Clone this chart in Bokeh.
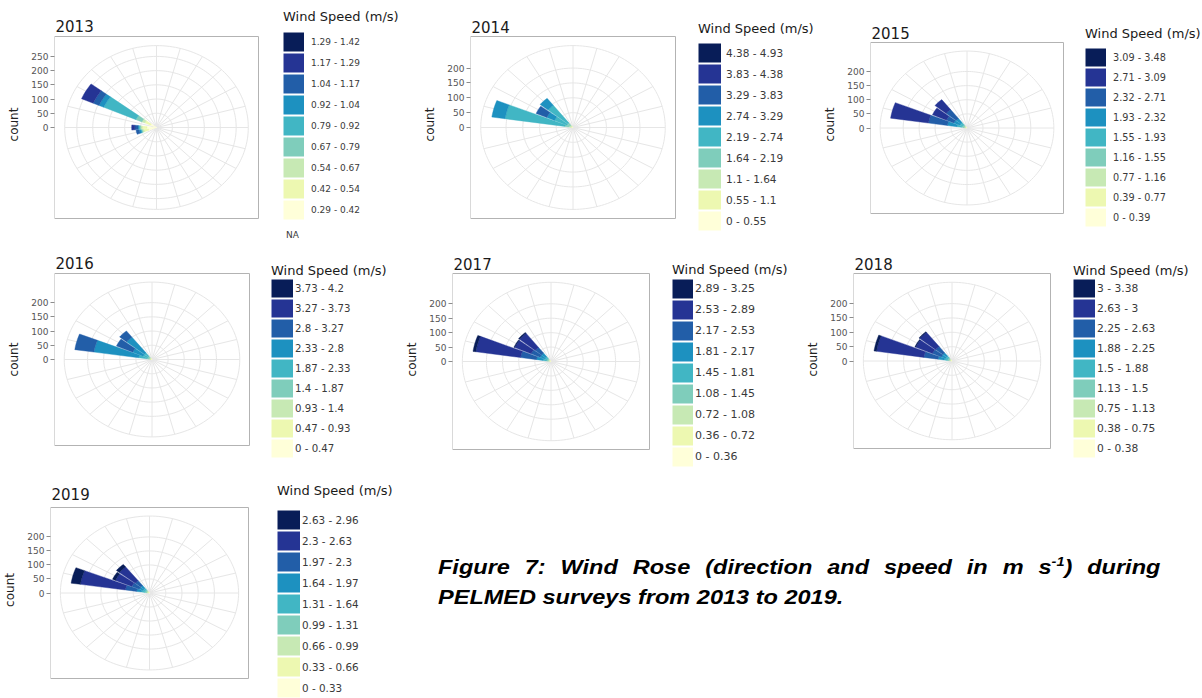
import numpy as np
from bokeh.plotting import figure
from bokeh.layouts import row, column
from bokeh.models import Range1d, FixedTicker, Legend, LegendItem, ColumnDataSource, Div, Label
from bokeh.embed import file_html
from bokeh.resources import INLINE

# ---------------- data ----------------
SPEED_COLORS = ["#ffffd9", "#edf8b1", "#c7e9b4", "#7fcdbb", "#41b6c4",
                "#1d91c0", "#225ea8", "#253494", "#081d58"]
DIR_STEP = 15  # direction bin width (degrees)

SPEED_BINS_2013 = ["0.29 - 0.42", "0.42 - 0.54", "0.54 - 0.67", "0.67 - 0.79", "0.79 - 0.92",
                   "0.92 - 1.04", "1.04 - 1.17", "1.17 - 1.29", "1.29 - 1.42"]
SPEED_BINS_2014 = ["0 - 0.55", "0.55 - 1.1", "1.1 - 1.64", "1.64 - 2.19", "2.19 - 2.74",
                   "2.74 - 3.29", "3.29 - 3.83", "3.83 - 4.38", "4.38 - 4.93"]
SPEED_BINS_2015 = ["0 - 0.39", "0.39 - 0.77", "0.77 - 1.16", "1.16 - 1.55", "1.55 - 1.93",
                   "1.93 - 2.32", "2.32 - 2.71", "2.71 - 3.09", "3.09 - 3.48"]
SPEED_BINS_2016 = ["0 - 0.47", "0.47 - 0.93", "0.93 - 1.4", "1.4 - 1.87", "1.87 - 2.33",
                   "2.33 - 2.8", "2.8 - 3.27", "3.27 - 3.73", "3.73 - 4.2"]
SPEED_BINS_2017 = ["0 - 0.36", "0.36 - 0.72", "0.72 - 1.08", "1.08 - 1.45", "1.45 - 1.81",
                   "1.81 - 2.17", "2.17 - 2.53", "2.53 - 2.89", "2.89 - 3.25"]
SPEED_BINS_2018 = ["0 - 0.38", "0.38 - 0.75", "0.75 - 1.13", "1.13 - 1.5", "1.5 - 1.88",
                   "1.88 - 2.25", "2.25 - 2.63", "2.63 - 3", "3 - 3.38"]
SPEED_BINS_2019 = ["0 - 0.33", "0.33 - 0.66", "0.66 - 0.99", "0.99 - 1.31", "1.31 - 1.64",
                   "1.64 - 1.97", "1.97 - 2.3", "2.3 - 2.63", "2.63 - 2.96"]

# direction bins (compass degrees) and counts per speed bin (low -> high)
DIRS_2013 = [255, 270, 300]
COUNTS_2013 = [[25, 15, 5, 3, 2, 5, 10, 0, 0],
               [30, 15, 5, 3, 3, 2, 10, 10, 0],
               [20, 20, 10, 20, 110, 16, 20, 40, 0]]
DIRS_2014 = [285, 300, 315]
COUNTS_2014 = [[3, 4, 6, 12, 180, 40, 0, 0, 0],
               [2, 3, 5, 10, 40, 25, 35, 0, 0],
               [2, 3, 5, 10, 75, 30, 0, 0, 0]]
DIRS_2015 = [285, 300, 315]
COUNTS_2015 = [[2, 3, 4, 8, 15, 30, 60, 120, 0],
               [2, 3, 4, 6, 10, 20, 25, 48, 0],
               [2, 3, 4, 6, 10, 18, 40, 45, 0]]
DIRS_2016 = [285, 300, 315]
COUNTS_2016 = [[2, 3, 4, 8, 25, 140, 60, 0, 0],
               [2, 3, 4, 6, 15, 35, 55, 0, 0],
               [2, 3, 4, 6, 15, 70, 28, 0, 0]]
DIRS_2017 = [285, 300, 315]
COUNTS_2017 = [[2, 3, 4, 6, 10, 20, 50, 140, 9],
               [2, 3, 4, 5, 8, 15, 30, 55, 3],
               [2, 3, 4, 5, 8, 15, 25, 62, 4]]
DIRS_2018 = [285, 300, 315]
COUNTS_2018 = [[2, 3, 4, 6, 10, 18, 45, 148, 8],
               [2, 3, 4, 5, 8, 14, 30, 56, 3],
               [2, 3, 4, 5, 8, 14, 28, 63, 3]]
DIRS_2019 = [285, 300, 315]
COUNTS_2019 = [[2, 3, 4, 6, 10, 15, 35, 140, 29],
               [2, 3, 4, 5, 8, 12, 25, 55, 10],
               [2, 3, 4, 5, 8, 12, 22, 62, 12]]

# ---------------- styling ----------------
FONT = "DejaVu Sans"
GRID = "#e6e6e6"
BORDER = "#b3b3b3"
NAN = np.array([np.nan])


def rose(year, dirs, counts, labels, fig, box, leg, na=False):
    fx0, fy0, fw, fh, ftop = fig           # figure placement (px), top border
    bx0, by0, bx1, by1 = box               # panel box (px)
    lx, ltop, pitch, sw, lab_size, standoff, tstand, toff = leg

    totals = [sum(c) for c in counts]
    rmax = max(totals)
    ext = 1.25 * rmax                      # ggplot polar panel half-extent
    r_out = 1.125 * rmax                   # outer grid circle
    cx, cy = (bx0 + bx1) / 2, (by0 + by1) / 2
    hpx = (bx1 - bx0) / 2 / ext
    vpx = (by1 - by0) / 2 / ext
    x_rng = Range1d((bx0 - cx) / hpx, (fx0 + fw - cx) / hpx)
    y_rng = Range1d(-(fy0 + fh - cy) / vpx, (cy - (fy0 + ftop)) / vpx)

    p = figure(width=fw, height=fh, x_range=x_rng, y_range=y_rng,
               output_backend="svg", toolbar_location=None, x_axis_location=None,
               min_border_left=bx0 - fx0, min_border_right=0,
               min_border_top=ftop, min_border_bottom=0)
    p.outline_line_color = None
    p.grid.visible = False
    ticks = list(range(0, int(rmax) + 1, 50))
    ax = p.yaxis[0]
    ax.ticker = FixedTicker(ticks=ticks)
    ax.axis_line_color = None
    ax.major_tick_out = 4
    ax.major_tick_in = 0
    ax.minor_tick_line_color = None
    ax.major_tick_line_color = "#8c8c8c"
    ax.major_label_text_font = FONT
    ax.major_label_text_font_size = "9px"
    ax.major_label_text_color = "#555555"
    ax.major_label_standoff = 2
    ax.axis_label = "count"
    ax.axis_label_text_font = FONT
    ax.axis_label_text_font_size = "12px"
    ax.axis_label_text_font_style = "normal"
    ax.axis_label_text_color = "#222222"
    ax.axis_label_standoff = 7

    # grid: circles at breaks + outer circle, spokes at each direction bin
    radii = [t for t in ticks if t > 0] + [r_out]
    t = np.linspace(0, 2 * np.pi, 181)
    p.multi_line(xs=[list(r * np.cos(t)) for r in radii],
                 ys=[list(r * np.sin(t)) for r in radii],
                 line_color=GRID, line_width=1)
    sp = np.deg2rad(90 - np.arange(0, 360, DIR_STEP))
    p.segment(x0=np.zeros(len(sp)), y0=np.zeros(len(sp)),
              x1=r_out * np.cos(sp), y1=r_out * np.sin(sp),
              line_color=GRID, line_width=1)

    # stacked wedges
    xs, ys, cols = [], [], []
    half = np.deg2rad(0.45 * DIR_STEP)
    for d, cnts in zip(dirs, counts):
        a = np.deg2rad(90 - d)
        th = np.linspace(a - half, a + half, 16)
        r0 = 0.0
        for k, c in enumerate(cnts):
            if c <= 0:
                continue
            r1 = r0 + c
            xs.append(list(r1 * np.cos(th)) + list(r0 * np.cos(th[::-1])))
            ys.append(list(r1 * np.sin(th)) + list(r0 * np.sin(th[::-1])))
            cols.append(SPEED_COLORS[k])
            r0 = r1
    src = ColumnDataSource(dict(xs=xs, ys=ys, col=cols))
    p.patches("xs", "ys", fill_color="col", line_color="col", line_width=0.4, source=src)

    # panel border (the polar panel extent)
    p.quad(left=[-ext], right=[ext], bottom=[-ext], top=[ext],
           fill_color=None, line_color=BORDER, line_width=1)

    # year title above the panel
    p.add_layout(Label(x=-ext, y=ext, text=year, x_offset=1, y_offset=toff,
                       text_baseline="alphabetic", text_align="left",
                       text_font=FONT, text_font_size="15px", text_color="#1a1a1a"))

    # legend
    items = []
    for lab, col in reversed(list(zip(labels, SPEED_COLORS))):
        r = p.line(x=NAN, y=NAN, line_color=col, line_width=pitch - 2, line_cap="butt")
        items.append(LegendItem(label=lab, renderers=[r]))
    last_bottom = (ltop - 1) + len(labels) * pitch
    legend = Legend(items=items, location=(lx - bx0, fy0 + fh - last_bottom),
                    title="Wind Speed (m/s)",
                    title_text_font=FONT, title_text_font_size="13px", title_text_font_style="normal",
                    title_text_color="#1a1a1a", title_standoff=tstand,
                    label_text_font=FONT, label_text_font_size=f"{lab_size}px",
                    label_text_color="#3a3a3a",
                    glyph_width=sw, glyph_height=pitch, label_height=pitch, spacing=0,
                    label_standoff=standoff, padding=0, margin=0,
                    border_line_color=None, background_fill_alpha=0)
    p.add_layout(legend)
    if na:
        rna = p.line(x=NAN, y=NAN, line_alpha=0)
        leg_na = Legend(items=[LegendItem(label="NA", renderers=[rna])],
                        location=(lx + 2 - bx0, 0),
                        glyph_width=1, glyph_height=8, label_height=8, label_standoff=0,
                        label_text_font=FONT, label_text_font_size=f"{lab_size}px",
                        label_text_color="#3a3a3a", padding=0, margin=0,
                        border_line_color=None, background_fill_alpha=0)
        p.add_layout(leg_na)
    return p


p13 = rose("2013", DIRS_2013, COUNTS_2013, SPEED_BINS_2013,
           (0, 0, 400, 240, 8), (54, 36, 258, 218), (283, 32, 21, 21, 9, 7, 7, 11), na=True)
p14 = rose("2014", DIRS_2014, COUNTS_2014, SPEED_BINS_2014,
           (400, 0, 420, 240, 8), (470, 36, 675, 218), (698, 43, 21, 23, 10.5, 5, 6, 10))
p15 = rose("2015", DIRS_2015, COUNTS_2015, SPEED_BINS_2015,
           (820, 0, 382, 240, 8), (870, 42, 1063, 213), (1085, 48, 20, 21, 9.7, 7, 6, 10))

p16 = rose("2016", DIRS_2016, COUNTS_2016, SPEED_BINS_2016,
           (0, 240, 400, 230, 8), (54, 273, 249, 445), (271, 279, 20, 22, 10.2, 2, 0, 11))
p17 = rose("2017", DIRS_2017, COUNTS_2017, SPEED_BINS_2017,
           (400, 240, 400, 230, 8), (452, 273, 649, 449), (672, 279, 21, 21, 11, 2, 1, 10))
p18 = rose("2018", DIRS_2018, COUNTS_2018, SPEED_BINS_2018,
           (800, 240, 402, 230, 8), (853, 273, 1050, 448), (1073, 279, 20, 22, 10.7, 2, 0, 10))

p19 = rose("2019", DIRS_2019, COUNTS_2019, SPEED_BINS_2019,
           (0, 470, 420, 228, 11), (50, 507, 248, 678), (277, 510, 21, 23, 10.4, 2, 11, 14))

CAPTION_1 = ("Figure 7: Wind Rose (direction and speed in m s"
             "<sup style=\"font-size:13px;line-height:0\">-1</sup>) during")
CAPTION_2 = "PELMED surveys from 2013 to 2019."
cap_style = ("font-family:'Liberation Sans',Arial,sans-serif;font-weight:bold;font-style:italic;"
             "font-size:21px;line-height:30px;color:#000;width:645px;white-space:nowrap;"
             "transform:scaleX(1.12);transform-origin:0 0;")
cap = Div(text=(f'<div style="{cap_style}text-align:justify;text-align-last:justify;">{CAPTION_1}</div>'
                f'<div style="{cap_style}text-align:left;">{CAPTION_2}</div>'),
          width=740, height=100, margin=(82, 0, 0, 18))

layout = column(row(p13, p14, p15),
                row(p16, p17, p18),
                row(p19, cap))

open("out.html", "w").write(file_html(layout, INLINE))
